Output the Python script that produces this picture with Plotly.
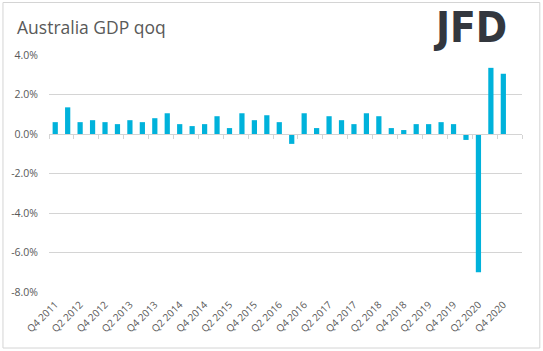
import plotly.graph_objects as go

quarters = ["Q4 2011","Q1 2012","Q2 2012","Q3 2012","Q4 2012","Q1 2013","Q2 2013","Q3 2013",
            "Q4 2013","Q1 2014","Q2 2014","Q3 2014","Q4 2014","Q1 2015","Q2 2015","Q3 2015",
            "Q4 2015","Q1 2016","Q2 2016","Q3 2016","Q4 2016","Q1 2017","Q2 2017","Q3 2017",
            "Q4 2017","Q1 2018","Q2 2018","Q3 2018","Q4 2018","Q1 2019","Q2 2019","Q3 2019",
            "Q4 2019","Q1 2020","Q2 2020","Q3 2020","Q4 2020","Q1 2021"]
gdp_qoq = [0.6, 1.35, 0.6, 0.7, 0.6, 0.5, 0.7, 0.6,
           0.8, 1.05, 0.5, 0.4, 0.5, 0.9, 0.3, 1.05,
           0.7, 0.95, 0.6, -0.5, 1.05, 0.3, 0.9, 0.7,
           0.5, 1.05, 0.9, 0.3, 0.2, 0.5, 0.5, 0.6,
           0.5, -0.3, -7.0, 3.35, 3.05, None]
label_quarters = quarters[0::2]
y_ticks = [-8, -6, -4, -2, 0, 2, 4]
y_tick_text = [f"{v:.1f}%" for v in y_ticks]

bar_color = "#00B2DB"
grid_color = "#D4D4D4"
text_color = "#595959"
font_family = "Open Sans, Lato, sans-serif"

Y_MIN, Y_MAX = -8, 4
zero_frac = (0 - Y_MIN) / (Y_MAX - Y_MIN)

fig = go.Figure()
fig.add_trace(go.Bar(x=quarters, y=gdp_qoq, marker_color=bar_color, marker_line_width=0,
                     xaxis="x", yaxis="y", hoverinfo="x+y"))
# invisible copy on a zero-height subplot at the zero line, so its tick marks render
fig.add_trace(go.Bar(x=quarters, y=[0 if v is not None else None for v in gdp_qoq],
                     marker_color="rgba(0,0,0,0)", marker_line_width=0,
                     xaxis="x2", yaxis="y2", hoverinfo="skip", showlegend=False))

L, R, T, B = 49, 21.3, 55, 59
W, H = 543, 351
pw, ph = W - L - R, H - T - B

def px_x(p):
    return (p - L) / pw

def px_y(p):
    return (H - B - p) / ph

fig.update_layout(
    width=W, height=H,
    margin=dict(l=L, r=R, t=T, b=B),
    paper_bgcolor="white", plot_bgcolor="rgba(0,0,0,0)",
    showlegend=False, bargap=0.58,
    font=dict(family=font_family, color=text_color, size=10),
    xaxis=dict(type="category", categoryorder="array", categoryarray=quarters,
               range=[-0.5, len(quarters) - 0.5],
               tickmode="array", tickvals=label_quarters, ticktext=label_quarters,
               tickangle=-45, showgrid=False, showline=False, ticks="",
               ticklabelstandoff=4,
               tickfont=dict(size=10, color=text_color, family=font_family),
               zeroline=False),
    xaxis2=dict(type="category", categoryorder="array", categoryarray=quarters,
                range=[-0.5, len(quarters) - 0.5], anchor="y2",
                showticklabels=False, showgrid=False, showline=True,
                linecolor=grid_color, linewidth=1, ticks="outside", tickson="boundaries",
                ticklen=4, tickcolor=grid_color, tickwidth=1, zeroline=False),
    yaxis=dict(range=[Y_MIN, Y_MAX], tickmode="array", tickvals=y_ticks, ticktext=y_tick_text,
               showgrid=True, gridcolor=grid_color,
               gridwidth=1, zeroline=False, showline=False, ticks="", ticklabelstandoff=10,
               tickfont=dict(size=10.5, color=text_color, family=font_family)),
    yaxis2=dict(domain=[zero_frac, zero_frac + 0.0005], range=[0, 1], visible=False,
                anchor="x2"),
    shapes=[dict(type="rect", xref="paper", yref="paper",
                 x0=px_x(3), x1=px_x(539.5), y0=px_y(348), y1=px_y(2.5),
                 line=dict(color=grid_color, width=1), fillcolor="rgba(0,0,0,0)", layer="below")],
    annotations=[
        dict(text="Australia GDP qoq", xref="paper", yref="paper", x=px_x(15), y=px_y(27),
             xanchor="left", yanchor="middle", showarrow=False,
             font=dict(size=17.5, color=text_color, family=font_family)),
        dict(text="<b>JFD</b>", xref="paper", yref="paper", x=px_x(509), y=px_y(27),
             xanchor="right", yanchor="middle", showarrow=False,
             font=dict(size=42, color="#33373E", family="DejaVu Sans Condensed, sans-serif")),
    ],
)

fig.write_html("out.html")
